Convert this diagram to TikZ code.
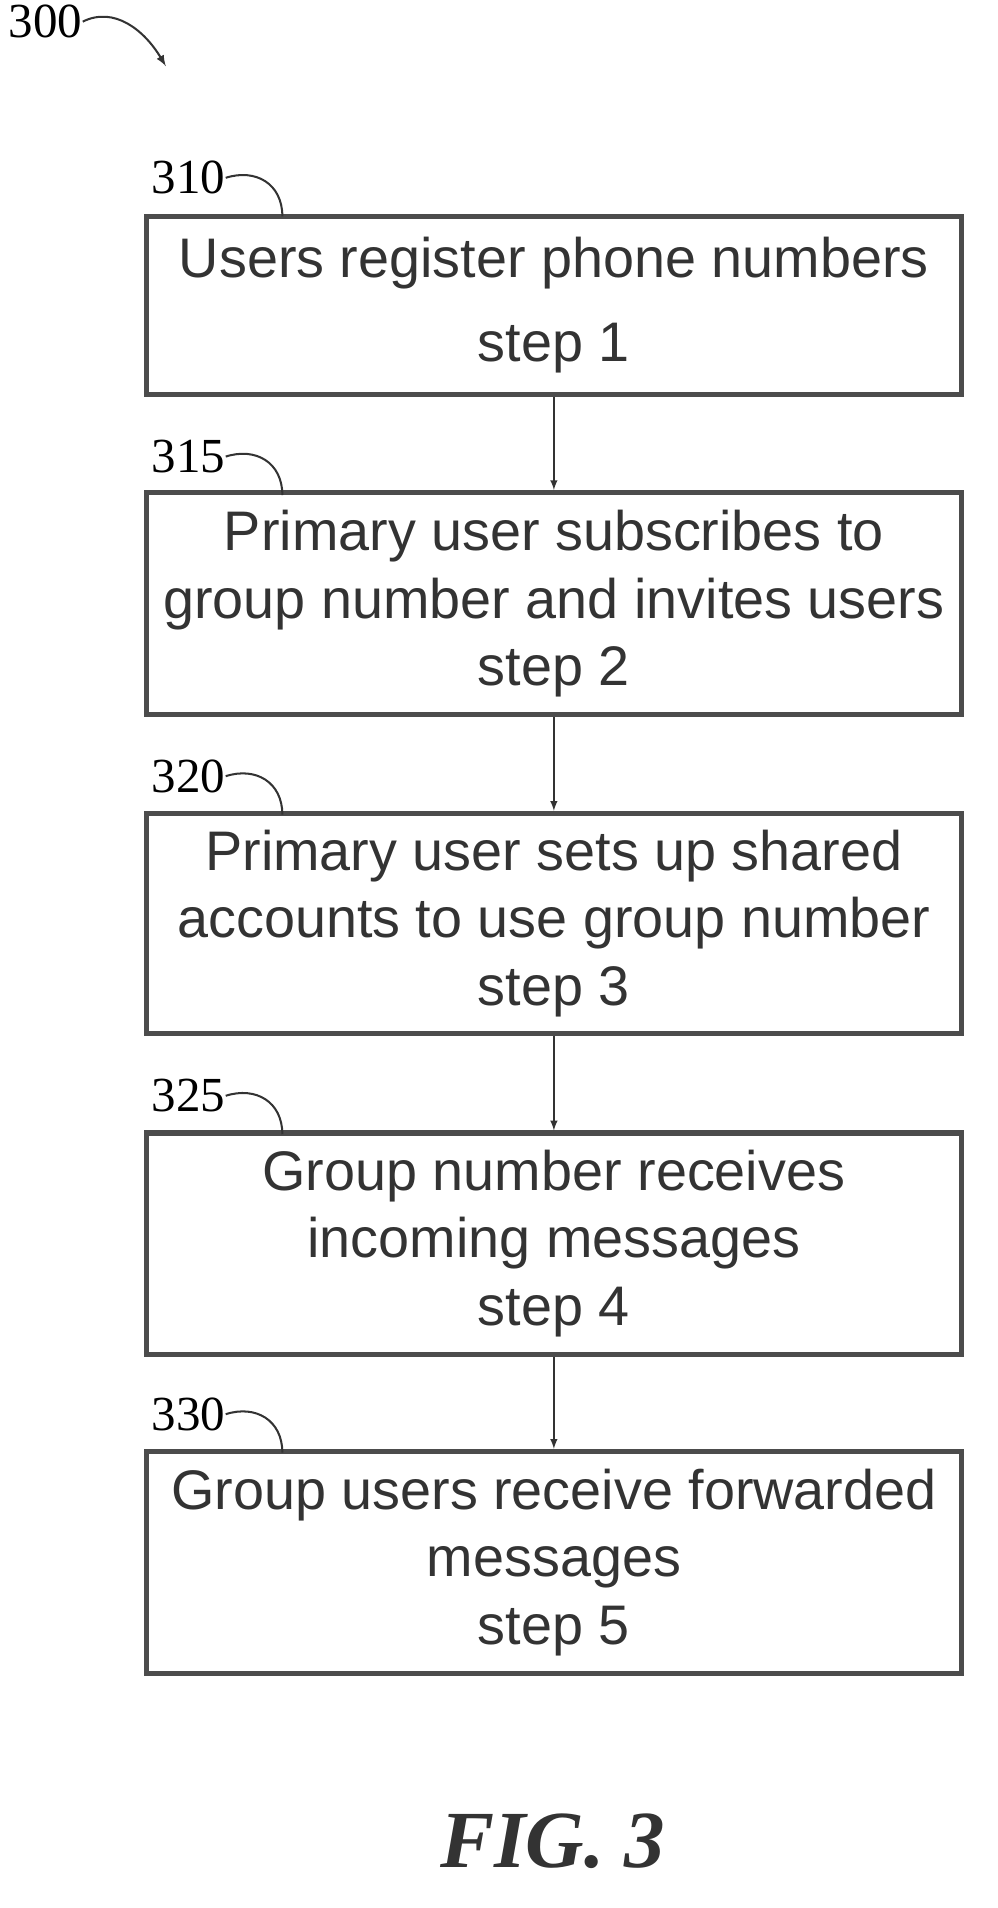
\documentclass[tikz,border=0pt]{standalone}
\usepackage{fontspec}
\setmainfont{Liberation Serif}
\setsansfont{Liberation Sans}
\usetikzlibrary{calc}
\begin{document}
\begin{tikzpicture}[x=0.025cm,y=-0.025cm,
  box/.style={draw=black!70,line width=3pt,minimum width=16.95cm,align=center,inner sep=2pt,
    font=\sffamily\fontsize{33}{40}\selectfont,text=black!80},
  lbl/.style={font=\fontsize{29}{30}\selectfont,inner sep=0pt},
  arr/.style={-latex,line width=1pt,black!80},
  lead/.style={line width=1.2pt,black!80}]
\useasboundingbox (0,0) rectangle (830,1588);
\node[box,minimum height=3.7cm] (b1) at (461,254) {Users register phone numbers\\[10pt]step 1};
\node[box,minimum height=4.625cm] (b2) at (461,502.5) {Primary user subscribes to\\group number and invites users\\step 2};
\node[box,minimum height=4.575cm] (b3) at (461,768.5) {Primary user sets up shared\\accounts to use group number\\step 3};
\node[box,minimum height=4.6cm] (b4) at (461,1035) {Group number receives\\incoming messages\\step 4};
\node[box,minimum height=4.625cm] (b5) at (461,1300.5) {Group users receive forwarded\\messages\\step 5};
\foreach \a/\b in {b1/b2,b2/b3,b3/b4,b4/b5} \draw[arr] (\a.south) -- (\b.north);
\foreach \n/\t/\y in {b1/310/148,b2/315/380,b3/320/646,b4/325/912,b5/330/1177}{
  \node[lbl] (l\t) at (157,\y) {\t};
  \coordinate (c\t) at (235,\y+32);
  \draw[lead] (l\t.east) .. controls ($(l\t.east)+(25,-8)$) and (235,\y+5) .. (c\t);
}
\node[lbl] (l300) at (38,18) {300};
\coordinate (c300) at (138,55);
\draw[lead,-latex] (l300.east) .. controls (95,5) and (120,25) .. (c300);
\node[font=\bfseries\itshape\fontsize{48}{50}\selectfont,text=black!80] (fig) at (460,1532) {FIG. 3};
\end{tikzpicture}
\end{document}
